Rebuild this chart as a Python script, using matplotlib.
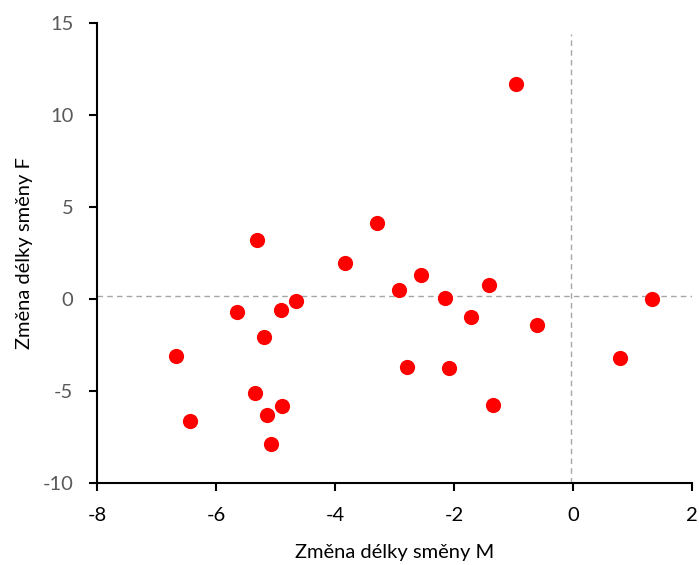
import matplotlib
matplotlib.use("Agg")
import matplotlib.pyplot as plt

# Data
zmena_m = [-0.96, -3.29, -5.32, -3.84, -2.55, -2.93, -1.42, -2.16, 1.33, -4.66,
           -5.65, -4.91, -1.72, -0.60, -5.20, -6.67, 0.79, -2.80, -2.09, -5.35,
           -4.90, -1.34, -5.15, -6.44, -5.08]
zmena_f = [11.70, 4.15, 3.23, 1.93, 1.28, 0.47, 0.74, 0.03, -0.02, -0.13,
           -0.73, -0.62, -1.00, -1.43, -2.08, -3.11, -3.22, -3.71, -3.76, -5.12,
           -5.82, -5.77, -6.31, -6.64, -7.89]
mean_m = -0.03
mean_f = 0.16

plt.rcParams['font.family'] = ['Lato', 'DejaVu Sans']
plt.rcParams['axes.unicode_minus'] = False

fig = plt.figure(figsize=(6.99, 5.65), dpi=100)
ax = fig.add_axes([0.1388, 0.1451, 0.8515, 0.8142])

ax.scatter(zmena_m, zmena_f, s=120, color="#ff0000", zorder=3, linewidths=0)
ax.axvline(mean_m, ymin=0, ymax=0.975, color="#a6a6a6", linestyle=(0, (4, 3)), linewidth=1)
ax.axhline(mean_f, color="#a6a6a6", linestyle=(0, (4, 3)), linewidth=1)

ax.set_xlim(-8, 2)
ax.set_ylim(-10, 15)
ax.set_xticks([-8, -6, -4, -2, 0, 2])
ax.set_yticks([-10, -5, 0, 5, 10, 15])

for side in ["top", "right"]:
    ax.spines[side].set_visible(False)
for side in ["left", "bottom"]:
    ax.spines[side].set_linewidth(1.5)
    ax.spines[side].set_color("black")

ax.tick_params(axis="both", direction="out", length=6, width=1.5, labelsize=14.5)
ax.tick_params(axis="y", labelcolor="#595959", pad=11)
ax.tick_params(axis="x", labelcolor="black", pad=11)

ax.set_xlabel("Změna délky směny M", fontsize=14.5, labelpad=15)
ax.set_ylabel("Změna délky směny F", fontsize=14.5, labelpad=7)

fig.savefig("out.png", dpi=100)
